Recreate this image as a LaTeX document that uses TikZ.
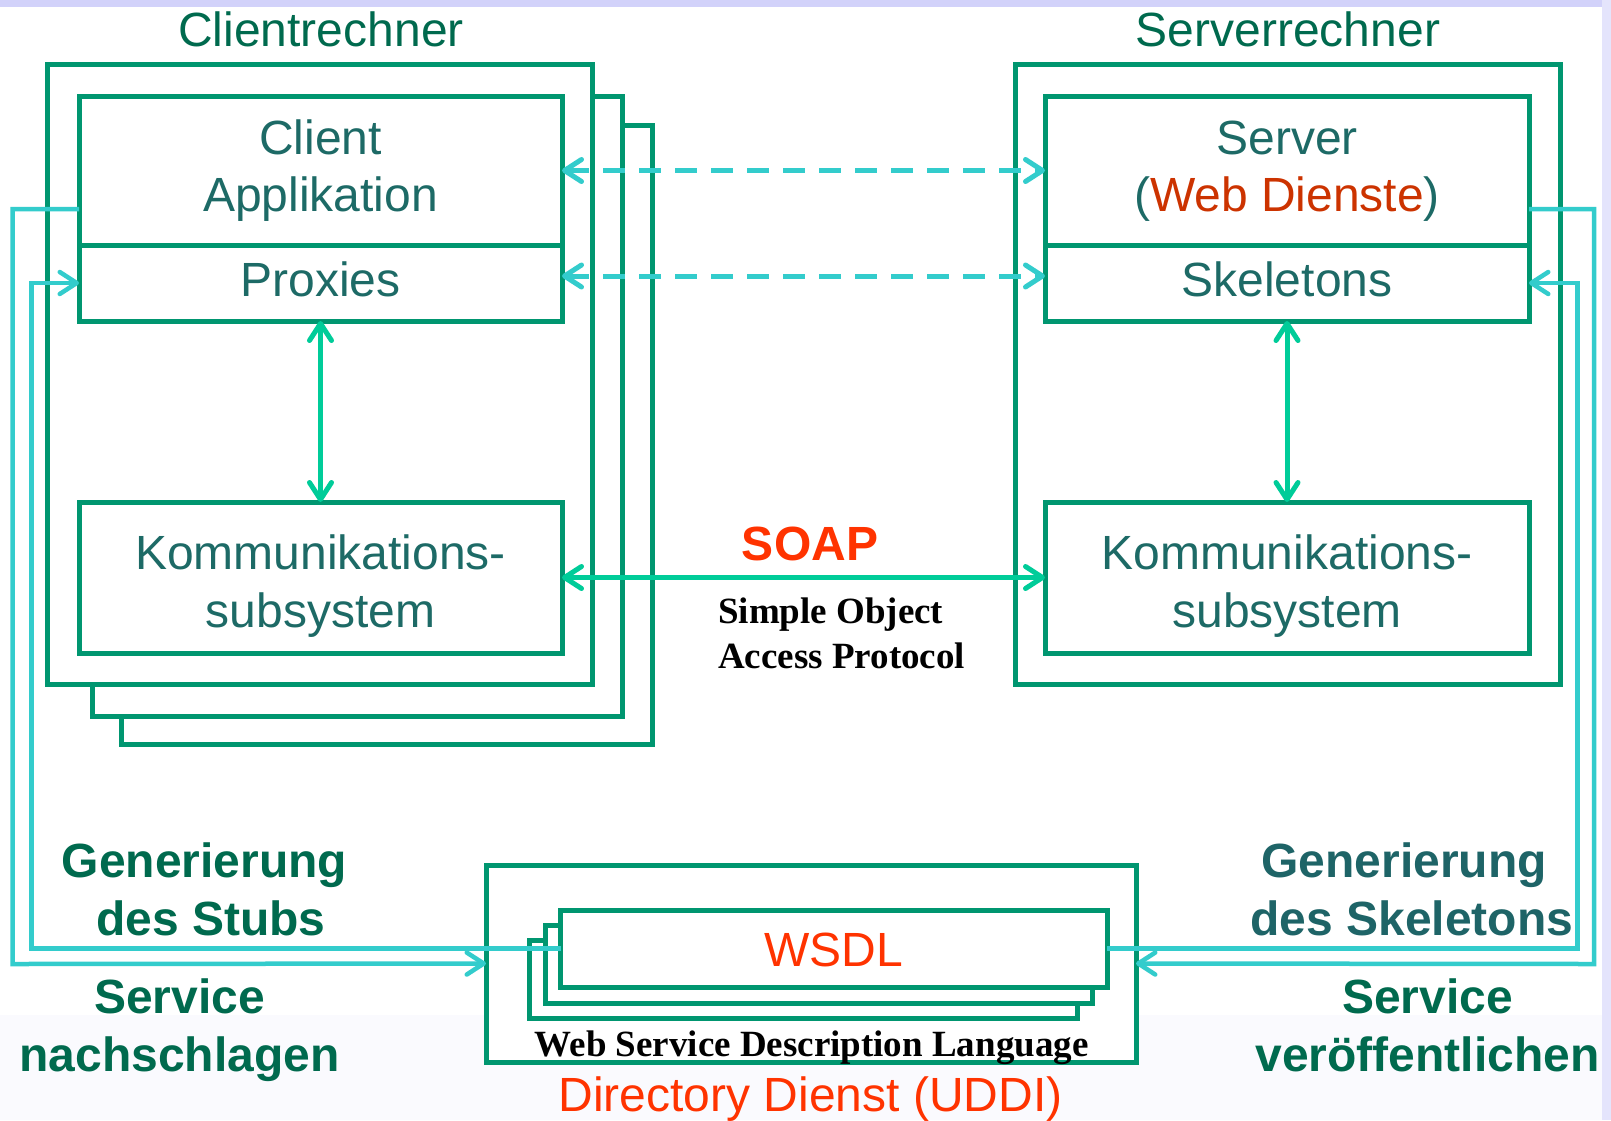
\documentclass[tikz,border=0pt]{standalone}
\usepackage{fontspec}
\setmainfont{Liberation Sans}
\newfontfamily\tnr{Liberation Serif}
\usetikzlibrary{arrows.meta}
\definecolor{boxg}{HTML}{009670}
\definecolor{titleg}{HTML}{006A4E}
\definecolor{txtteal}{HTML}{1D6A66}
\definecolor{skelteal}{HTML}{1E6467}
\definecolor{cyanl}{HTML}{33CCCC}
\definecolor{arrg}{HTML}{00CC99}
\definecolor{redt}{HTML}{FF3300}
\definecolor{darkred}{HTML}{CC3300}
\definecolor{lav}{HTML}{D2D2FA}
\definecolor{lavlight}{HTML}{E4E4FC}
\definecolor{offw}{HTML}{FAFAFE}
\begin{document}
\begin{tikzpicture}[x=1pt,y=-1pt,
  >={Straight Barb[length=17pt,width=22pt,round]},
  box/.style={draw=boxg,line width=5pt,fill=white,inner sep=0pt,outer sep=0pt,rectangle},
  txt/.style={inner sep=0pt,anchor=base,font=\fontsize{48pt}{58.5pt}\selectfont},
  btxt/.style={inner sep=0pt,anchor=base,font=\fontsize{48pt}{58.5pt}\selectfont\bfseries},
  stxt/.style={inner sep=0pt,font=\fontsize{37pt}{44pt}\selectfont\tnr\bfseries,text=black},
  cline/.style={draw=cyanl,line width=4.5pt,line join=miter},
  dline/.style={draw=cyanl,line width=5pt,dash pattern=on 22pt off 14pt},
  gline/.style={draw=arrg,line width=5pt}
]
\useasboundingbox (0,0) rectangle (1611,1120);
% background
\fill[white] (0,0) rectangle (1611,1120);
\fill[offw] (0,1015) rectangle (1611,1120);
\fill[lav] (0,0) rectangle (1611,7);
\fill[lavlight] (1602,0) rectangle (1611,1120);

% client computer stack
\node[box,minimum width=531pt,minimum height=619pt] (cstack3) at (386.5,434.5) {};
\node[box,minimum width=529.5pt,minimum height=620pt] (cstack2) at (357.25,406) {};
\node[box,minimum width=545pt,minimum height=620pt] (cout) at (319.5,374) {};
% server computer
\node[box,minimum width=545pt,minimum height=620pt] (sout) at (1287.5,374) {};

% directory + WSDL stack
\node[box,minimum width=650pt,minimum height=197pt] (dir) at (811,963.5) {};
\node[box,minimum width=548pt,minimum height=78pt] (w3) at (803,979) {};
\node[box,minimum width=547pt,minimum height=78pt] (w2) at (818.5,964) {};
\node[box,minimum width=546.5pt,minimum height=77pt] (w1) at (833.75,948.5) {};

% inner boxes
\node[box,minimum width=483pt,minimum height=149pt] (capp) at (320.5,170.5) {};
\node[box,minimum width=483pt,minimum height=76pt] (prox) at (320.5,283) {};
\node[box,minimum width=483pt,minimum height=151pt] (kommc) at (320.5,577.5) {};
\node[box,minimum width=484pt,minimum height=149pt] (srv) at (1287,170.5) {};
\node[box,minimum width=484pt,minimum height=76pt] (skel) at (1287,283) {};
\node[box,minimum width=484pt,minimum height=151pt] (komms) at (1287,577.5) {};

% cyan connectors
\draw[cline,->] ([yshift=-38.5pt]capp.west) -| (12.5,964) -- (dir.west);
\draw[cline,->] (w1.west) -| (31.5,283) -- (prox.west);
\draw[cline,->] ([yshift=-38.5pt]srv.east) -| (1594,964) -- (dir.east);
\draw[cline,->] (w1.east) -| (1577.5,283) -- (skel.east);

% dashed arrows
\draw[dline,<->] (capp.east) -- (srv.west);
\draw[dline,<->] ([yshift=7pt]prox.east) -- ([yshift=7pt]skel.west);

% green arrows
\draw[gline,<->] (prox.south) -- (kommc.north);
\draw[gline,<->] (skel.south) -- (komms.north);
\draw[gline,<->] (kommc.east) -- (komms.west);

% texts
\node[txt,text=titleg] (tclient) at (321,46) {Clientrechner};
\node[txt,text=titleg] (tserver) at (1288,46) {Serverrechner};
\node[txt,text=txtteal] (lclient) at (320.5,154) {Client};
\node[txt,text=txtteal] (lapp) at (320.5,211.7) {Applikation};
\node[txt,text=txtteal] (lprox) at (320.5,296.7) {Proxies};
\node[txt,text=txtteal] (lkc1) at (320.5,569) {Kommunikations-};
\node[txt,text=txtteal] (lkc2) at (320.5,627.5) {subsystem};
\node[txt,text=txtteal] (lserver) at (1287,154) {Server};
\node[txt,text=txtteal] (lweb) at (1287,211.7) {(\textcolor{darkred}{Web Dienste})};
\node[txt,text=txtteal] (lskel) at (1287,296.7) {Skeletons};
\node[txt,text=txtteal] (lks1) at (1287,569) {Kommunikations-};
\node[txt,text=txtteal] (lks2) at (1287,627.5) {subsystem};

\node[btxt,text=redt] (lsoap) at (810,560) {SOAP};
\node[stxt,anchor=base west] (lsoap1) at (718,623.3) {Simple Object};
\node[stxt,anchor=base west] (lsoap2) at (718,668.3) {Access Protocol};

\node[txt,text=redt] (lwsdl) at (833.5,966.7) {WSDL};
\node[stxt,anchor=base] (lwsdl2) at (811.6,1056.7) {Web Service Description Language};
\node[txt,text=redt] (ldir) at (810.6,1111) {Directory Dienst (UDDI)};

\node[btxt,text=titleg] (lgen1) at (204.6,877.3) {Generierung};
\node[btxt,text=titleg] (lstub) at (210.7,935) {des Stubs};
\node[btxt,text=titleg] (lserv1) at (179.6,1013.3) {Service};
\node[btxt,text=titleg] (lnach) at (179.5,1071.7) {nachschlagen};

\node[btxt,text=skelteal] (lgen2) at (1404,877.3) {Generierung};
\node[btxt,text=skelteal] (lskels) at (1411.7,935) {des Skeletons};
\node[btxt,text=titleg] (lserv2) at (1427.5,1013.3) {Service};
\node[btxt,text=titleg] (lveroe) at (1427.5,1071.7) {veröffentlichen};
\end{tikzpicture}
\end{document}
